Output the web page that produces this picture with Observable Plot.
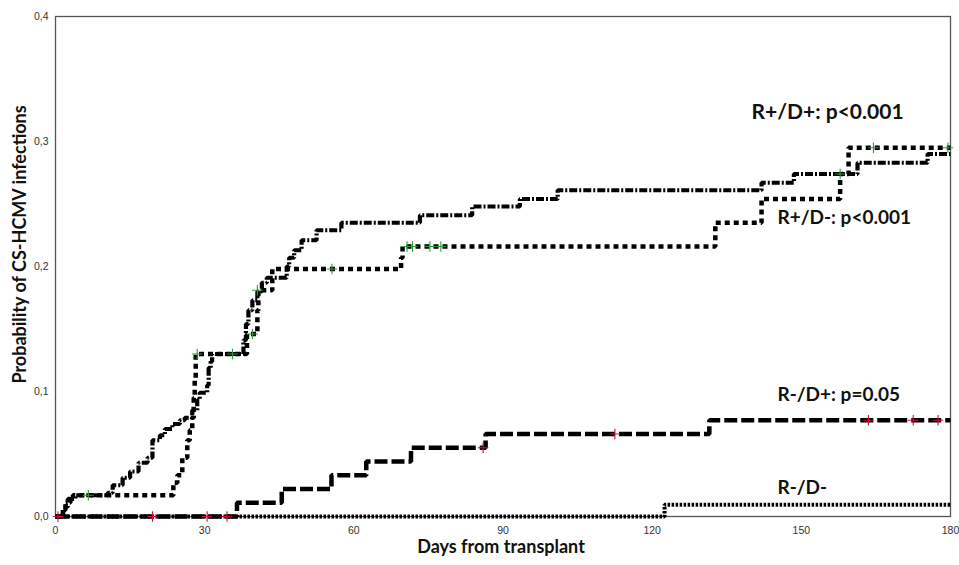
<!DOCTYPE html>
<html><head><meta charset="utf-8">
<script src="https://cdn.jsdelivr.net/npm/d3@7"></script>
<script src="https://cdn.jsdelivr.net/npm/@observablehq/plot@0.6"></script>
<style>body{margin:0;background:#fff}</style>
</head><body><div id="chart"></div>
<script>
// R+/D+ (dash-dot)
const rpdpDays = [0,1.5,2,3,4,10.5,11.5,13.5,15,16.7,18.5,19.5,21,22,23.5,25,26,27.5,28.5,29,30.5,30.8,31.2,31.5,37.8,38.3,38.8,39.6,40.6,41.5,42.5,46.5,47,48,49.5,52.5,57.5,73.3,83.8,93.4,101,142,148.5,161.3,175.4,180];
const rpdpProb = [0,0.005,0.011,0.014,0.017,0.019,0.025,0.031,0.036,0.043,0.047,0.061,0.065,0.07,0.074,0.077,0.079,0.085,0.093,0.099,0.105,0.119,0.124,0.13,0.141,0.154,0.165,0.173,0.18,0.187,0.191,0.2,0.207,0.213,0.221,0.229,0.235,0.241,0.248,0.254,0.261,0.267,0.274,0.283,0.29,0.29];
// R+/D- (dotted)
const rpdnDays = [0,1.5,2.5,3.5,23.7,24.5,25.5,26.5,27,27.5,27.8,28,28.2,38.5,40.6,40.8,43.6,69.5,69.8,132.7,142,157.8,159.5,180];
const rpdnProb = [0,0.008,0.014,0.017,0.027,0.033,0.047,0.061,0.069,0.079,0.095,0.11,0.13,0.146,0.165,0.181,0.198,0.207,0.216,0.235,0.254,0.274,0.295,0.295];
const rpdnCensDays = [6.6,28.5,35.6,39.6,40.6,55.6,70.7,71.8,75.3,77.5,157.8,164.5,179.5];
const rpdnCensProb = [0.017,0.13,0.13,0.146,0.181,0.198,0.216,0.216,0.216,0.216,0.274,0.295,0.295];
// R-/D+ (long dash)
const rndpDays = [0,36.5,45.5,55.5,62.5,71.5,86.5,131.5,180];
const rndpProb = [0,0.011,0.022,0.033,0.044,0.055,0.066,0.077,0.077];
const rndpCensDays = [0.5,19.5,30.5,34.5,86,112.5,163.5,172.5,177.5];
const rndpCensProb = [0,0,0,0,0.055,0.066,0.077,0.077,0.077];
// R-/D- (fine dots)
const rnDnDays = [0,122.5,180];
const rnDnProb = [0,0.0095,0.0095];
// annotations
const labelTexts = ["R+/D+: p<0.001","R+/D-: p<0.001","R-/D+: p=0.05","R-/D-"];
const labelDays = [140,145.2,145.2,145.2];
const labelProb = [0.323,0.239,0.097,0.023];
const labelSizes = [21,19,19,19];
const yTicks = [0,0.1,0.2,0.3,0.4];
const xTicks = [0,30,60,90,120,150,180];

const zip = (xs, ys) => xs.map((x,i)=>({x, y: ys[i]}));
const font = "Lato, 'Open Sans', sans-serif";
const comma = d => d.toFixed(1).replace(".", ",");
const lineOpts = {x:"x", y:"y", curve:"step-after", stroke:"#000", strokeLinecap:"butt", strokeLinejoin:"miter"};

const chart = Plot.plot({
  width: 959, height: 565,
  marginLeft: 55, marginRight: 9, marginTop: 16, marginBottom: 49,
  style: {fontFamily: "'Liberation Sans', Arial, sans-serif", background: "#fff"},
  x: {domain: [0,180], ticks: xTicks},
  y: {domain: [0,0.4], ticks: yTicks},
  marks: [
    Plot.axisX({ticks: xTicks, tickSize: 0, tickPadding: 10, fontSize: 10.5, color: "#333", label: null}),
    Plot.axisY({ticks: yTicks, tickSize: 0, tickPadding: 7, fontSize: 10.5, color: "#333", tickFormat: comma, label: null}),
    Plot.frame({stroke: "#555", strokeWidth: 1.3}),
    Plot.line(zip(rnDnDays, rnDnProb), {...lineOpts, strokeWidth:4, strokeDasharray:"2.5,1.5"}),
    Plot.line(zip(rndpDays, rndpProb), {...lineOpts, strokeWidth:4.5, strokeDasharray:"13,4"}),
    Plot.line(zip(rpdnDays, rpdnProb), {...lineOpts, strokeWidth:4.5, strokeDasharray:"5,4"}),
    Plot.line(zip(rpdpDays, rpdpProb), {...lineOpts, strokeWidth:4.2, strokeDasharray:"8,2,2,2"}),
    Plot.dot(zip(rndpCensDays, rndpCensProb), {x:"x", y:"y", symbol:"plus", r:3.5, stroke:"#d0103a", strokeWidth:1.1}),
    Plot.dot(zip(rpdnCensDays, rpdnCensProb), {x:"x", y:"y", symbol:"plus", r:3.5, stroke:"#2f9a3a", strokeWidth:1.1}),
    Plot.text(labelTexts.map((t,i)=>({t, s: labelSizes[i], x: labelDays[i], y: labelProb[i]})), {x:"x", y:"y", text:"t", fontSize: d => d.s, textAnchor:"start", fontWeight:"bold", fill:"#111", fontFamily: font}),
    Plot.text(["Probability of CS-HCMV infections"], {frameAnchor:"left", dx:-35, dy:-22, rotate:-90, textAnchor:"middle", fontSize:18, fontWeight:"bold", fill:"#111", fontFamily: font}),
    Plot.text(["Days from transplant"], {frameAnchor:"bottom", dy:36, dx:-2, fontSize:18, fontWeight:"bold", fill:"#111", fontFamily: font})
  ]
});
document.getElementById("chart").appendChild(chart);
</script>
</body></html>
